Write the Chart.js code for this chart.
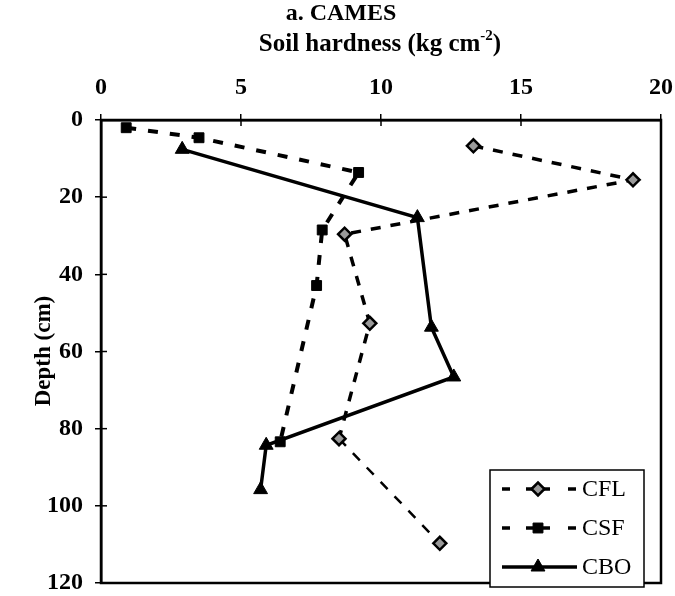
<!DOCTYPE html>
<html>
<head>
<meta charset="utf-8">
<script src="https://cdn.jsdelivr.net/npm/chart.js@4/dist/chart.umd.min.js"></script>
<style>
  html, body { margin: 0; padding: 0; background: #fff; }
  #wrap { width: 675px; height: 596px; position: relative; }
</style>
</head>
<body>
<div id="wrap"><canvas id="c" width="675" height="596"></canvas></div>
<script>
// ---- data (hardness in kg cm-2, depth in cm) ----
const seriesNames = ["CFL", "CSF", "CBO"];
const hardnessCFL = [13.3, 19.0, 8.7, 9.6, 8.5, 12.1];
const depthCFL    = [6.7, 15.5, 29.6, 52.7, 82.6, 109.7];
const hardnessCSF = [0.9, 3.5, 9.2, 7.9, 7.7, 6.4];
const depthCSF    = [2.0, 4.6, 13.6, 28.5, 42.9, 83.4];
const hardnessCBO = [2.9, 11.3, 11.8, 12.6, 5.9, 5.7];
const depthCBO    = [7.6, 25.3, 53.7, 66.6, 84.3, 95.8];
const xTicks = [0, 5, 10, 15, 20];
const yTicks = [0, 20, 40, 60, 80, 100, 120];

const pts = (xs, ys) => xs.map((x, i) => ({ x: x, y: ys[i] }));
const SERIF = '"Liberation Serif", "Times New Roman", serif';

const datasets = [
  {
    label: seriesNames[0],
    data: pts(hardnessCFL, depthCFL),
    showLine: true,
    borderColor: '#000',
    borderWidth: 3.5,
    borderDash: [10, 10],
    pointStyle: 'rectRot',
    pointRadius: 6.5,
    pointBackgroundColor: '#9a9a9a',
    pointBorderColor: '#000',
    pointBorderWidth: 2.5,
    segment: {
      borderWidth: ctx => ctx.p0DataIndex === 4 ? 2.5 : 3.5
    }
  },
  {
    label: seriesNames[1],
    data: pts(hardnessCSF, depthCSF),
    showLine: true,
    borderColor: '#000',
    borderWidth: 4,
    borderDash: [10, 12],
    pointStyle: 'rect',
    pointRadius: 7,
    pointBackgroundColor: '#000',
    pointBorderColor: '#000',
    pointBorderWidth: 1
  },
  {
    label: seriesNames[2],
    data: pts(hardnessCBO, depthCBO),
    showLine: true,
    borderColor: '#000',
    borderWidth: 3.5,
    pointStyle: 'triangle',
    pointRadius: 8,
    pointBackgroundColor: '#000',
    pointBorderColor: '#000',
    pointBorderWidth: 1
  }
];

const decor = {
  id: 'decor',
  afterDraw(chart) {
    const ctx = chart.ctx;
    const a = chart.chartArea;
    ctx.save();
    // frame
    ctx.strokeStyle = '#000';
    ctx.lineWidth = 2.5;
    ctx.beginPath();
    ctx.moveTo(a.left, a.top);
    ctx.lineTo(a.right, a.top);
    ctx.lineTo(a.right, a.bottom);
    ctx.lineTo(a.left, a.bottom);
    ctx.closePath();
    ctx.stroke();
    // small inner tick marks
    const xs = chart.scales.x, ys = chart.scales.y;
    ctx.lineWidth = 1.5;
    xTicks.forEach(v => { const px = xs.getPixelForValue(v); ctx.beginPath(); ctx.moveTo(px, a.top); ctx.lineTo(px, a.top + 6); ctx.stroke(); });
    yTicks.forEach(v => { const py = ys.getPixelForValue(v); ctx.beginPath(); ctx.moveTo(a.left, py); ctx.lineTo(a.left + 6, py); ctx.stroke(); });

    // titles
    ctx.fillStyle = '#000';
    ctx.textBaseline = 'middle';
    ctx.textAlign = 'center';
    ctx.font = 'bold 24px ' + SERIF;
    ctx.fillText('a. CAMES', 341, 14);
    // Soil hardness (kg cm^-2)
    const t1 = 'Soil hardness (kg cm';
    const sup = '-2';
    const t2 = ')';
    ctx.font = 'bold 25px ' + SERIF;
    const w1 = ctx.measureText(t1).width;
    const w2 = ctx.measureText(t2).width;
    ctx.font = 'bold 15px ' + SERIF;
    const ws = ctx.measureText(sup).width;
    const total = w1 + ws + w2;
    let x0 = 380 - total / 2;
    ctx.textAlign = 'left';
    ctx.font = 'bold 25px ' + SERIF;
    ctx.fillText(t1, x0, 45);
    ctx.font = 'bold 15px ' + SERIF;
    ctx.fillText(sup, x0 + w1, 36);
    ctx.font = 'bold 25px ' + SERIF;
    ctx.fillText(t2, x0 + w1 + ws, 45);
    // y title
    ctx.save();
    ctx.translate(44, 351);
    ctx.rotate(-Math.PI / 2);
    ctx.textAlign = 'center';
    ctx.font = 'bold 23px ' + SERIF;
    ctx.fillText('Depth (cm)', 0, 0);
    ctx.restore();

    // legend
    const lx = 490, ly = 470, lw = 154, lh = 117;
    ctx.fillStyle = '#fff';
    ctx.fillRect(lx, ly, lw, lh);
    ctx.strokeStyle = '#000';
    ctx.lineWidth = 1.5;
    ctx.strokeRect(lx, ly, lw, lh);
    const rowsY = [489, 528, 567];
    chart.data.datasets.forEach((ds, i) => {
      const y = rowsY[i];
      ctx.save();
      ctx.strokeStyle = '#000';
      ctx.lineWidth = 3.5;
      if (ds.borderDash) {
        [[502, 510], [526, 550], [568, 576]].forEach(seg => {
          ctx.beginPath(); ctx.moveTo(seg[0], y); ctx.lineTo(seg[1], y); ctx.stroke();
        });
      } else {
        ctx.beginPath(); ctx.moveTo(502, y); ctx.lineTo(577, y); ctx.stroke();
      }
      ctx.restore();
      ctx.fillStyle = ds.pointBackgroundColor;
      ctx.strokeStyle = ds.pointBorderColor;
      ctx.lineWidth = ds.pointBorderWidth;
      Chart.helpers.drawPoint(ctx, {
        pointStyle: ds.pointStyle,
        radius: ds.pointRadius,
        rotation: 0,
        borderWidth: ds.pointBorderWidth
      }, 538, y);
      ctx.fillStyle = '#000';
      ctx.font = '24px ' + SERIF;
      ctx.textAlign = 'left';
      ctx.textBaseline = 'middle';
      ctx.fillText(ds.label, 582, y + 1);
    });
    ctx.restore();
  }
};

new Chart(document.getElementById('c'), {
  type: 'scatter',
  data: { datasets: datasets },
  options: {
    responsive: false,
    animation: false,
    layout: { autoPadding: false, padding: { left: 0, right: 14, top: 0, bottom: 13 } },
    plugins: { legend: { display: false }, tooltip: { enabled: false } },
    scales: {
      x: {
        type: 'linear',
        position: 'top',
        min: 0, max: 20,
        afterBuildTicks: s => { s.ticks = xTicks.map(v => ({ value: v })); },
        afterFit: s => { s.height = 120; s.paddingLeft = 0; s.paddingRight = 0; },
        border: { display: true, color: '#000', width: 2.5 },
        grid: { drawOnChartArea: false, drawTicks: true, tickLength: 6, color: '#000', lineWidth: 1.5 },
        ticks: { color: '#000', padding: 12, font: { family: SERIF, size: 24, weight: 'bold' }, maxRotation: 0 }
      },
      y: {
        type: 'linear',
        reverse: true,
        min: 0, max: 120,
        afterBuildTicks: s => { s.ticks = yTicks.map(v => ({ value: v })); },
        afterFit: s => { s.width = 101; s.paddingTop = 0; s.paddingBottom = 0; },
        border: { display: true, color: '#000', width: 2.5 },
        grid: { drawOnChartArea: false, drawTicks: true, tickLength: 6, color: '#000', lineWidth: 1.5 },
        ticks: { color: '#000', padding: 12, font: { family: SERIF, size: 24, weight: 'bold' } }
      }
    }
  },
  plugins: [decor]
});
</script>
</body>
</html>
